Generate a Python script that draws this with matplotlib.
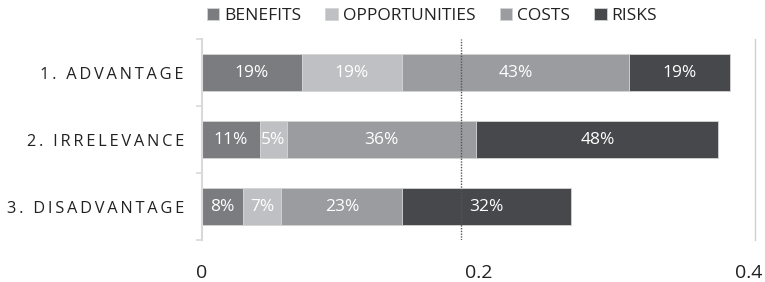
import numpy as np
import matplotlib.pyplot as plt
import matplotlib.transforms as mtransforms
from matplotlib.ticker import FixedLocator

plt.rcParams['font.family'] = ['Open Sans', 'DejaVu Sans']

categories = ["1. ADVANTAGE", "2. IRRELEVANCE", "3. DISADVANTAGE"]
series = ["BENEFITS", "OPPORTUNITIES", "COSTS", "RISKS"]

# segment lengths
benefits = [0.072, 0.042, 0.030]
opportunities = [0.073, 0.0195, 0.0275]
costs = [0.164, 0.137, 0.0875]
risks = [0.073, 0.175, 0.122]

# percentages printed inside the segments
benefits_pct = ["19%", "11%", "8%"]
opportunities_pct = ["19%", "5%", "7%"]
costs_pct = ["43%", "36%", "23%"]
risks_pct = ["19%", "48%", "32%"]

reference_line = 0.187
xticks = [0, 0.2, 0.4]
xtick_labels = ["0", "0.2", "0.4"]

colors = ["#7b7c80", "#bfc0c3", "#9b9ca0", "#47484b"]

fig = plt.figure(figsize=(7.65, 2.82), dpi=100, facecolor='w')
ax = fig.add_axes([202/765, 1-240/282, 553/765, 201/282])

values = [benefits, opportunities, costs, risks]
pcts = [benefits_pct, opportunities_pct, costs_pct, risks_pct]
y = np.arange(len(categories))
left = np.zeros(len(categories))
for vals, lab, col, name in zip(values, pcts, colors, series):
    vals = np.array(vals)
    ax.barh(y, vals, left=left, height=0.55, color=col, label=name,
            edgecolor='#d4d4d4', linewidth=0.6)
    for i in range(len(y)):
        ax.text(left[i] + vals[i]/2, y[i], lab[i], ha='center', va='center',
                color='white', fontsize=12.5)
    left += vals

ax.axvline(reference_line, color='#555555', linestyle=(0, (1, 1)), linewidth=1, zorder=3)

ax.set_xlim(0, 0.4)
ax.set_ylim(2.5, -0.5)
ax.set_xticks(xticks)
ax.set_xticklabels(xtick_labels, fontsize=14, color='#222222')
ax.tick_params(axis='x', length=0, pad=17)
# keep the last label inside the figure
last = ax.get_xticklabels()[-1]
last.set_transform(last.get_transform() + mtransforms.ScaledTranslation(-4.5/72, 0, fig.dpi_scale_trans))

spaced = ['\u2009'.join(c) for c in categories]
ax.set_yticks(y)
ax.set_yticklabels(spaced, fontsize=11.8, color='#222222')
ax.tick_params(axis='y', which='major', length=0, pad=13)
ax.yaxis.set_minor_locator(FixedLocator([-0.5, 0.5, 1.5, 2.5]))
ax.tick_params(axis='y', which='minor', length=4, color='#d9d9d9', width=1.2)

for s in ['top', 'bottom']:
    ax.spines[s].set_visible(False)
ax.spines['left'].set_color('#d9d9d9')
ax.spines['left'].set_linewidth(1.5)
ax.spines['right'].set_color('#d0d0d0')
ax.spines['right'].set_linewidth(1)

fig.legend(loc='center', bbox_to_anchor=(432/765, 1-16/282), ncol=4, frameon=False,
           fontsize=12.5, handlelength=0.7, handleheight=0.7, handletextpad=0.3,
           columnspacing=1.4, borderpad=0, labelcolor='#222222')

fig.savefig('out.png', dpi=100)
